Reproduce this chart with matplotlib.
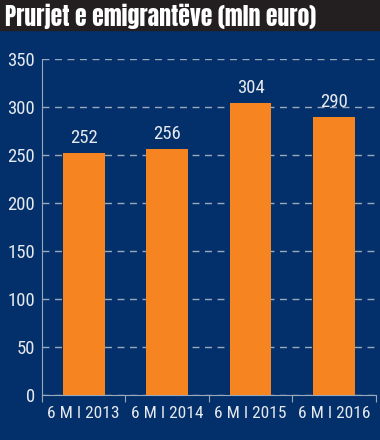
import matplotlib.pyplot as plt
from matplotlib import font_manager

labels = ["6 M I 2013", "6 M I 2014", "6 M I 2015", "6 M I 2016"]
values = [252, 256, 304, 290]
yticks = [0, 50, 100, 150, 200, 250, 300, 350]

names = {f.name for f in font_manager.fontManager.ttflist}


def pick(cands):
    for c in cands:
        if c in names:
            return c
    return "DejaVu Sans"


body_font = pick(["Roboto Condensed", "Pathway Gothic One", "Oswald", "Archivo Narrow"])
title_font = pick(["Anton", "Oswald", "Fjalla One", "Archivo Narrow"])

blue = "#03306a"
orange = "#f68420"
txt = "#e6e9ee"
line = "#9aa8bd"

fig = plt.figure(figsize=(3.8, 4.4), dpi=100, facecolor=blue)
ax = fig.add_axes([0.1105, 0.1023, 0.8785, 0.7636])
ax.set_facecolor(blue)

x = range(len(values))
ax.bar(x, values, width=0.5, color=orange, zorder=3)
for i, v in enumerate(values):
    ax.text(i, v + 6, str(v), ha="center", va="bottom", color=txt, fontsize=13.5, family=body_font)

ax.set_xlim(-0.5, 3.5)
ax.set_ylim(0, 350)
ax.set_yticks(yticks)
ax.set_yticklabels([str(t) for t in yticks], fontsize=13.5, color=txt, family=body_font)
# category boundaries get the tick marks, labels sit at the bar centres
ax.set_xticks([i + 0.5 for i in range(-1, 4)])
ax.set_xticklabels([""] * 5)
ax.set_xticks(list(x), minor=True)
ax.set_xticklabels(labels, minor=True, fontsize=12.5, color=txt, family=body_font)
ax.tick_params(axis="x", which="minor", length=0, pad=8)
ax.tick_params(axis="x", which="major", length=5, color=line, direction="out")
ax.tick_params(axis="y", length=0, pad=5)

ax.yaxis.grid(True, linestyle=(0, (5, 4)), color=line, linewidth=1)
for s in ["top", "right"]:
    ax.spines[s].set_visible(False)
for s in ["left", "bottom"]:
    ax.spines[s].set_color(line)

fig.patches.append(plt.Rectangle((0, 1 - 30 / 440), 1, 30 / 440, transform=fig.transFigure,
                                 color="#231f20", zorder=0))
fig.text(0.013, 1 - 16 / 440, "Prurjet e emigrantëve (mln euro)", color="white",
         fontsize=17, va="center", ha="left", family=title_font)

fig.savefig("out.png", dpi=100, facecolor=blue)
